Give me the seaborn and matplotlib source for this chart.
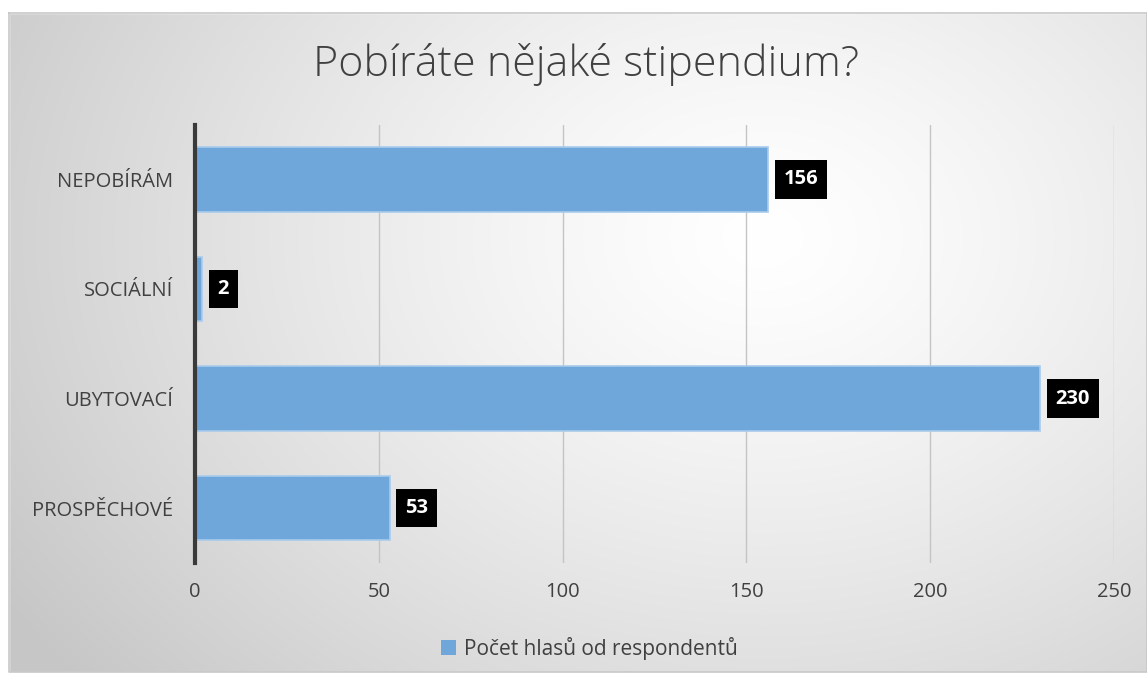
import numpy as np
import pandas as pd
import matplotlib
matplotlib.use("Agg")
import matplotlib.pyplot as plt
import seaborn as sns
from matplotlib.patches import Patch

categories = ["NEPOBÍRÁM", "SOCIÁLNÍ", "UBYTOVACÍ", "PROSPĚCHOVÉ"]
values = [156, 2, 230, 53]
series_name = "Počet hlasů od respondentů"
title = "Pobíráte nějaké stipendium?"
xticks = [0, 50, 100, 150, 200, 250]

df = pd.DataFrame({"cat": categories, "val": values, "series": series_name})

sns.set_theme(style="white")
plt.rcParams['font.family'] = ['Open Sans', 'DejaVu Sans']

W, H = 1147, 677
fig = plt.figure(figsize=(W / 100, H / 100), dpi=100)

# background with radial gradient and border
bg = fig.add_axes([0, 0, 1, 1], zorder=-10)
bg.set_xlim(0, W)
bg.set_ylim(H, 0)
bg.axis("off")
yy, xx = np.mgrid[0:H, 0:W]
cx, cy = 760, 230
r = np.sqrt(((xx - cx) / 900.0) ** 2 + ((yy - cy) / 700.0) ** 2)
r = np.clip(r, 0, 1)
light = 1.0 - 0.22 * r ** 1.3
img = np.dstack([light, light, light])
bg.imshow(img, extent=[9, W, 672, 13], aspect="auto", zorder=0)
bg.add_patch(plt.Rectangle((0, 0), W, 13, color="white", zorder=1))
bg.add_patch(plt.Rectangle((0, 0), 9, H, color="white", zorder=1))
bg.add_patch(plt.Rectangle((0, 672), W, 5, color="white", zorder=1))
bg.plot([9, W, W, 9, 9], [13, 13, 672, 672, 13], color="#c8c8c8", lw=1.2, zorder=2)

left, right = 195 / W, 1114 / W
top, bottom = 1 - 124.75 / H, 1 - 562.75 / H
ax = fig.add_axes([left, bottom, right - left, top - bottom])
ax.patch.set_alpha(0)

bar_color = "#70a7db"
sns.barplot(data=df, y="cat", x="val", orient="h", ax=ax, color=bar_color,
            saturation=1, width=0.59, edgecolor="#a9cbec", linewidth=1.2,
            label=series_name, legend=False)
if ax.get_legend() is not None:
    ax.get_legend().remove()

ax.set_xlim(0, 250)
ax.set_ylim(3.5, -0.5)
ax.set_xticks(xticks)
ax.set_xticklabels([str(t) for t in xticks])
ax.xaxis.grid(True, color="#c4c4c4", lw=1)
ax.set_axisbelow(True)
for s in ["top", "right", "bottom"]:
    ax.spines[s].set_visible(False)
ax.spines["left"].set_color("#3a3a3a")
ax.spines["left"].set_linewidth(3)
ax.spines["left"].set_zorder(5)
ax.set_xlabel("")
ax.set_ylabel("")
ax.tick_params(axis="both", length=0, labelsize=14.5, labelcolor="#404040")
ax.tick_params(axis="x", pad=14)
ax.tick_params(axis="y", pad=16)

for i, v in enumerate(values):
    ax.annotate(str(v), xy=(v, i), xytext=(11, 0), textcoords="offset points",
                ha="left", va="center", fontsize=14.5, fontweight="bold", color="white",
                bbox=dict(boxstyle="square,pad=0.45", fc="black", ec="none"))

fig.suptitle(title, x=586 / W, y=1 - 65 / H, va="center", fontsize=31, color="#404040",
             fontweight="light")

handles = [Patch(facecolor=bar_color, edgecolor="none")]
leg = fig.legend(handles, [series_name], loc="center", bbox_to_anchor=(0.514, 1 - 648 / H),
                 frameon=False, fontsize=15, handlelength=0.7, handleheight=0.7,
                 handletextpad=0.4)
for t in leg.get_texts():
    t.set_color("#404040")

fig.savefig("out.png", dpi=100)
